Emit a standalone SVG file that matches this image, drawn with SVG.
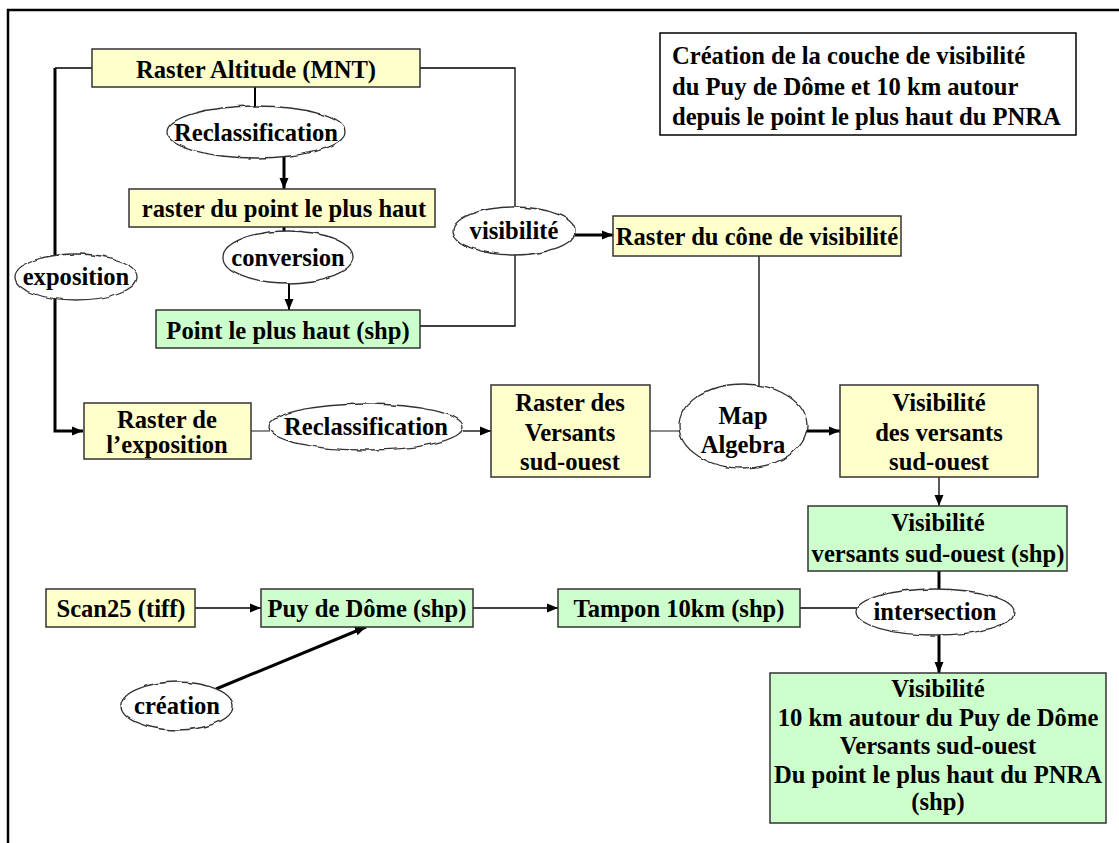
<svg xmlns="http://www.w3.org/2000/svg" width="1119" height="843" viewBox="0 0 1119 843">
<style>
text{font-family:'Liberation Serif','DejaVu Serif',serif;font-weight:700;font-size:24.6px;fill:#000;text-anchor:middle}
.s{text-anchor:start}
.y{fill:#FFFFCC;stroke:#333;stroke-width:1.5}
.g{fill:#CCFFCC;stroke:#333;stroke-width:1.5}
.el{fill:#fff;stroke:#333;stroke-width:1.3;filter:url(#wob)}
.c{fill:none;stroke:#000}
.t1{stroke-width:1.3}
.t2{stroke-width:2}
.t3{stroke-width:3}
.gr{stroke:#666;stroke-width:1.5}
</style>
<defs>
<marker id="ah" markerUnits="userSpaceOnUse" markerWidth="12" markerHeight="12" viewBox="0 0 12 12" refX="11" refY="6" orient="auto">
<path d="M0,1.5 L11,6 L0,10.5 Z" fill="#000"/>
</marker>
<filter id="wob" x="-10%" y="-25%" width="120%" height="150%">
<feTurbulence type="fractalNoise" baseFrequency="0.09" numOctaves="1" seed="4" result="n"/>
<feDisplacementMap in="SourceGraphic" in2="n" scale="4" xChannelSelector="R" yChannelSelector="G"/>
</filter>
</defs>
<rect width="1119" height="843" fill="#fff"/>
<g id="frame" fill="none" stroke="#000" stroke-width="2.5">
<path d="M8,843 L8,10 L1119,10"/>
</g>
<g id="connectors">
<path class="c t1" d="M92,68 H55"/>
<path class="c t3" d="M55,68 V431 H83" marker-end="url(#ah)"/>
<path class="c t2" d="M255,87 V107"/>
<path class="c t3" d="M284,157 V189" marker-end="url(#ah)"/>
<path class="c t3" d="M284,227 V232"/>
<path class="c t2" d="M289,282 V310" marker-end="url(#ah)"/>
<path class="c t1" d="M420,68 H515 V326 H420"/>
<path class="c t3" d="M575,235 H613" marker-end="url(#ah)"/>
<path class="c t1" d="M759,256 V386"/>
<path class="c gr" d="M251,431 H270"/>
<path class="c t1" d="M463,431 H491" marker-end="url(#ah)"/>
<path class="c gr" d="M650,431 H680"/>
<path class="c t3" d="M806,431 H840" marker-end="url(#ah)"/>
<path class="c t1" d="M939,477 V506" marker-end="url(#ah)"/>
<path class="c t3" d="M939,571 V590"/>
<path class="c t1" d="M800,608 H857"/>
<path class="c t3" d="M939,634 V673" marker-end="url(#ah)"/>
<path class="c t1" d="M195,608 H261" marker-end="url(#ah)"/>
<path class="c t1" d="M473,608 H558" marker-end="url(#ah)"/>
<path class="c t3" d="M216,689 L366,627" marker-end="url(#ah)"/>
</g>
<g font-family="Liberation Serif, DejaVu Serif, serif" font-weight="bold">
<g id="altitude"><rect class="y" x="92" y="49" width="328" height="38"/><text x="256" y="78">Raster Altitude (MNT)</text></g>
<g id="reclass1"><ellipse class="el" cx="256" cy="132" rx="89" ry="26"/><text x="256" y="141">Reclassification</text></g>
<g id="rasterpoint"><rect class="y" x="129" y="189" width="306" height="38"/><text x="284" y="217">raster du point le plus haut</text></g>
<g id="conversion"><ellipse class="el" cx="288" cy="257" rx="65" ry="26"/><text x="288" y="266">conversion</text></g>
<g id="pointshp"><rect class="g" x="156" y="310" width="264" height="38"/><text x="288" y="339">Point le plus haut (shp)</text></g>
<g id="exposition"><ellipse class="el" cx="76" cy="277" rx="61" ry="23"/><text x="76" y="285">exposition</text></g>
<g id="visibilite"><ellipse class="el" cx="514" cy="231" rx="61" ry="24"/><text x="514" y="239">visibilité</text></g>
<g id="cone"><rect class="y" x="613" y="216" width="288" height="40"/><text x="757" y="245">Raster du cône de visibilité</text></g>
<g id="title"><rect x="660" y="33" width="416" height="102" fill="#fff" stroke="#000" stroke-width="1.5"/>
<text class="s" x="672" y="64">Création de la couche de visibilité</text>
<text class="s" x="672" y="95">du Puy de Dôme et 10 km autour</text>
<text class="s" x="672" y="125">depuis le point le plus haut du PNRA</text></g>
<g id="rasterexpo"><rect class="y" x="84" y="403" width="167" height="56"/><text x="167" y="428">Raster de</text><text x="167" y="453">l’exposition</text></g>
<g id="reclass2"><ellipse class="el" cx="366" cy="427" rx="97" ry="23"/><text x="366" y="435">Reclassification</text></g>
<g id="versants"><rect class="y" x="491" y="385" width="159" height="92"/><text x="570" y="411">Raster des</text><text x="570" y="441">Versants</text><text x="570" y="470">sud-ouest</text></g>
<g id="mapalgebra"><ellipse class="el" cx="743" cy="426" rx="64" ry="42"/><text x="743" y="424">Map</text><text x="743" y="453">Algebra</text></g>
<g id="visversants"><rect class="y" x="840" y="385" width="198" height="92"/><text x="939" y="411">Visibilité</text><text x="939" y="441">des versants</text><text x="939" y="470">sud-ouest</text></g>
<g id="visshp"><rect class="g" x="808" y="506" width="259" height="65"/><text x="938" y="531">Visibilité</text><text x="938" y="562">versants sud-ouest (shp)</text></g>
<g id="scan25"><rect class="y" x="46" y="589" width="149" height="38"/><text x="121" y="617">Scan25 (tiff)</text></g>
<g id="puy"><rect class="g" x="261" y="589" width="212" height="38"/><text x="367" y="617">Puy de Dôme (shp)</text></g>
<g id="tampon"><rect class="g" x="558" y="589" width="242" height="38"/><text x="679" y="617">Tampon 10km (shp)</text></g>
<g id="intersection"><ellipse class="el" cx="935" cy="612" rx="79" ry="23"/><text x="935" y="620">intersection</text></g>
<g id="creation"><ellipse class="el" cx="177" cy="706" rx="56" ry="24"/><text x="177" y="714">création</text></g>
<g id="final"><rect class="g" x="770" y="673" width="336" height="150"/>
<text x="938" y="697">Visibilité</text>
<text x="938" y="726">10 km autour du Puy de Dôme</text>
<text x="938" y="754">Versants sud-ouest</text>
<text x="938" y="783">Du point le plus haut du PNRA</text>
<text x="938" y="810">(shp)</text></g>
</g>
</svg>
